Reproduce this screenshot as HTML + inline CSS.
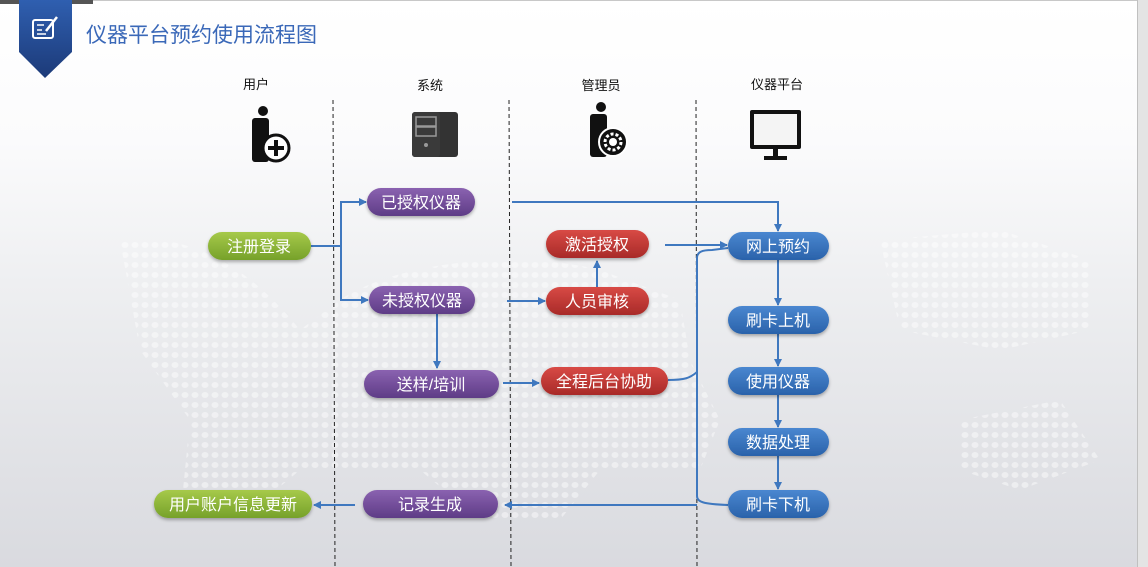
<!DOCTYPE html>
<html><head><meta charset="utf-8">
<style>
html,body{margin:0;padding:0;width:1148px;height:567px;overflow:hidden;background:#e4e4e4;}
svg{display:block;font-family:"Liberation Sans","Noto Sans CJK SC",sans-serif;}
</style></head>
<body>
<svg width="1148" height="567" viewBox="0 0 1148 567" xmlns="http://www.w3.org/2000/svg">
<defs>
<linearGradient id="bg" x1="0" y1="0" x2="0" y2="1">
<stop offset="0" stop-color="#ffffff"/><stop offset="0.25" stop-color="#fbfbfc"/><stop offset="0.5" stop-color="#eeeff1"/><stop offset="1" stop-color="#d9dadf"/>
</linearGradient>
<linearGradient id="pu" x1="0" y1="0" x2="0" y2="1"><stop offset="0" stop-color="#8a62b0"/><stop offset="1" stop-color="#5e3c86"/></linearGradient>
<linearGradient id="rd" x1="0" y1="0" x2="0" y2="1"><stop offset="0" stop-color="#d84a45"/><stop offset="1" stop-color="#a82a28"/></linearGradient>
<linearGradient id="bl" x1="0" y1="0" x2="0" y2="1"><stop offset="0" stop-color="#4a87d0"/><stop offset="1" stop-color="#2a62aa"/></linearGradient>
<linearGradient id="gr" x1="0" y1="0" x2="0" y2="1"><stop offset="0" stop-color="#a6c94a"/><stop offset="1" stop-color="#76a12a"/></linearGradient>
<linearGradient id="tag" x1="0" y1="0" x2="0" y2="1"><stop offset="0" stop-color="#2f5fb0"/><stop offset="1" stop-color="#1c3a78"/></linearGradient>
<marker id="ar" markerWidth="8" markerHeight="8" refX="7" refY="4" orient="auto" markerUnits="userSpaceOnUse"><path d="M0,0 L8,4 L0,8 z" fill="#3f78bf"/></marker>
<pattern id="dots" width="10" height="10" patternUnits="userSpaceOnUse"><ellipse cx="5" cy="5" rx="3.5" ry="3" fill="#ffffff" opacity="0.55"/></pattern>
<filter id="sh" x="-20%" y="-30%" width="140%" height="170%"><feDropShadow dx="0" dy="2" stdDeviation="1.5" flood-color="#000" flood-opacity="0.3"/></filter>
</defs>
<rect x="0" y="0" width="1137" height="567" fill="url(#bg)"/>
<line x1="1137.5" y1="0" x2="1137.5" y2="567" stroke="#c0c0c0"/>
<line x1="0" y1="0.5" x2="1137" y2="0.5" stroke="#c8c8c8"/>
<rect x="0" y="0" width="93" height="4" fill="#555"/>
<!-- map dots approximation -->
<g opacity="0.8">
<path d="M120,240 C200,230 260,280 300,330 L340,300 C400,260 520,250 600,270 L680,300 L690,360 L720,420 L700,470 L600,470 L560,520 L480,520 L420,470 L300,470 L240,520 L180,520 L190,420 L140,350 Z" fill="url(#dots)"/>
<path d="M880,240 L1000,230 L1090,260 L1090,330 L1000,350 L900,330 Z" fill="url(#dots)"/>
<path d="M960,420 L1060,400 L1100,460 L1020,490 L960,470 Z" fill="url(#dots)"/>
</g>
<!-- header tag -->
<path d="M19,0 H72 V52 L45,78 L19,52 Z" fill="url(#tag)"/>
<rect x="33" y="20" width="20" height="18" rx="2" fill="none" stroke="#fff" stroke-width="2"/>
<line x1="37" y1="25" x2="44" y2="25" stroke="#fff" stroke-width="1.5"/><line x1="37" y1="30" x2="42" y2="30" stroke="#fff" stroke-width="1.5"/><line x1="37" y1="34" x2="46" y2="34" stroke="#fff" stroke-width="1.5"/>
<line x1="46" y1="31" x2="57" y2="17" stroke="#fff" stroke-width="2.5"/>
<text x="86" y="42" font-size="21" fill="#3a68b8">仪器平台预约使用流程图</text>
<!-- column headers -->
<g font-size="13" fill="#111" text-anchor="middle">
<text x="256" y="89">用户</text><text x="430" y="90">系统</text><text x="601" y="90">管理员</text><text x="777" y="89">仪器平台</text>
</g>
<!-- icons -->
<g fill="#111">
<circle cx="263" cy="111" r="5"/><rect x="252" y="118" width="17" height="44" rx="3"/>
<circle cx="276" cy="148" r="13" fill="#fff" stroke="#111" stroke-width="3"/>
<rect x="268" y="146" width="16" height="4"/><rect x="274" y="140" width="4" height="16"/>
<rect x="412" y="112" width="46" height="45" rx="3" fill="#333"/>
<rect x="412" y="112" width="28" height="45" rx="3" fill="#3a3a3a"/>
<rect x="416" y="117" width="20" height="9" fill="none" stroke="#999" stroke-width="1.5"/>
<rect x="416" y="127" width="20" height="9" fill="none" stroke="#999" stroke-width="1.5"/>
<circle cx="426" cy="145" r="2" fill="#999"/>
<circle cx="601" cy="107" r="5"/><rect x="590" y="114" width="17" height="43" rx="3"/>
<circle cx="613" cy="142" r="14" fill="#111" stroke="#fff" stroke-width="2"/>
<circle cx="613" cy="142" r="8" fill="none" stroke="#fff" stroke-width="3" stroke-dasharray="3 2"/>
<circle cx="613" cy="142" r="4" fill="#fff"/>
<rect x="750" y="110" width="51" height="39" rx="2" fill="#111"/>
<rect x="754" y="114" width="43" height="31" fill="#f4f4f4"/>
<rect x="773" y="149" width="5" height="8"/><rect x="764" y="156" width="23" height="4"/>
</g>
<!-- dashed lanes -->
<g stroke="#222" stroke-width="1" stroke-dasharray="4 3">
<line x1="333" y1="100" x2="335" y2="567"/><line x1="509" y1="100" x2="511" y2="567"/><line x1="696" y1="100" x2="697" y2="567"/>
</g>
<!-- connectors -->
<g stroke="#3f78bf" stroke-width="2" fill="none">
<path d="M311,246 H341"/>
<path d="M341,300 V202 H366" marker-end="url(#ar)"/>
<path d="M341,246 V300 H368" marker-end="url(#ar)"/>
<path d="M512,202 H778 V231" marker-end="url(#ar)"/>
<path d="M665,245 H727" marker-end="url(#ar)"/>
<path d="M597,287 V261" marker-end="url(#ar)"/>
<path d="M507,301 H545" marker-end="url(#ar)"/>
<path d="M437,314 V368" marker-end="url(#ar)"/>
<path d="M503,383 H539" marker-end="url(#ar)"/>
<path d="M668,380 C685,380 690,378 697,372"/>
<path d="M697,372 V258 C697,252 702,250 712,250 L728,248"/>
<path d="M697,372 V496 C697,502 703,504 728,505"/>
<path d="M778,260 V305" marker-end="url(#ar)"/>
<path d="M778,334 V366" marker-end="url(#ar)"/>
<path d="M778,395 V427" marker-end="url(#ar)"/>
<path d="M778,456 V489" marker-end="url(#ar)"/>
<path d="M697,505 H505" marker-end="url(#ar)"/>
<path d="M355,505 H314" marker-end="url(#ar)"/>
</g>
<!-- nodes -->
<g font-size="16" fill="#fff" text-anchor="middle" filter="url(#sh)">
<rect x="367" y="188" width="108" height="28" rx="14" fill="url(#pu)"/>
<rect x="369" y="286" width="106" height="28" rx="14" fill="url(#pu)"/>
<rect x="364" y="370" width="135" height="28" rx="14" fill="url(#pu)"/>
<rect x="363" y="490" width="135" height="28" rx="14" fill="url(#pu)"/>
<rect x="208" y="232" width="103" height="28" rx="14" fill="url(#gr)"/>
<rect x="154" y="490" width="158" height="28" rx="14" fill="url(#gr)"/>
<rect x="546" y="230" width="103" height="28" rx="14" fill="url(#rd)"/>
<rect x="546" y="287" width="103" height="28" rx="14" fill="url(#rd)"/>
<rect x="541" y="367" width="127" height="28" rx="14" fill="url(#rd)"/>
<rect x="728" y="232" width="101" height="28" rx="14" fill="url(#bl)"/>
<rect x="728" y="306" width="101" height="28" rx="14" fill="url(#bl)"/>
<rect x="728" y="367" width="101" height="28" rx="14" fill="url(#bl)"/>
<rect x="728" y="428" width="101" height="28" rx="14" fill="url(#bl)"/>
<rect x="728" y="490" width="101" height="28" rx="14" fill="url(#bl)"/>
</g>
<g font-size="16" fill="#fff" text-anchor="middle">
<text x="421" y="208">已授权仪器</text>
<text x="422" y="306">未授权仪器</text>
<text x="431" y="390">送样/培训</text>
<text x="430" y="510">记录生成</text>
<text x="259" y="252">注册登录</text>
<text x="233" y="510">用户账户信息更新</text>
<text x="597" y="250">激活授权</text>
<text x="597" y="307">人员审核</text>
<text x="604" y="387">全程后台协助</text>
<text x="778" y="252">网上预约</text>
<text x="778" y="326">刷卡上机</text>
<text x="778" y="387">使用仪器</text>
<text x="778" y="448">数据处理</text>
<text x="778" y="510">刷卡下机</text>
</g>
</svg>
</body></html>
